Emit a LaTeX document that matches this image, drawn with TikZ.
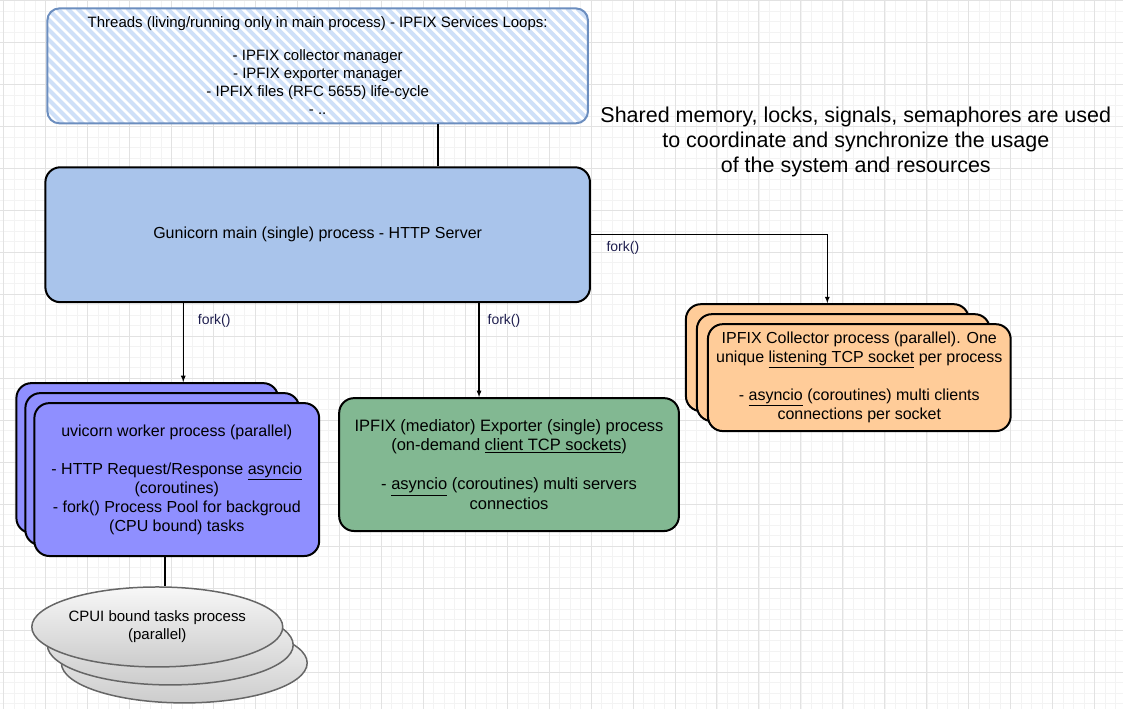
\documentclass[tikz,border=0pt]{standalone}
\usepackage{fontspec}
\setmainfont{Liberation Sans}
\usetikzlibrary{positioning,shapes.geometric}

\definecolor{gunifill}{HTML}{A9C4EB}
\definecolor{uvifill}{HTML}{8F8FFF}
\definecolor{expfill}{HTML}{82B892}
\definecolor{colfill}{HTML}{FFCC99}
\definecolor{hatchblue}{HTML}{CFE0F8}
\definecolor{threadedge}{HTML}{6C8EBF}
\definecolor{cpuedge}{HTML}{666666}
\definecolor{gridminor}{HTML}{F3F3F3}
\definecolor{gridmajor}{HTML}{E2E2E2}
\definecolor{forkink}{HTML}{1F1F4F}

\begin{document}
\begin{tikzpicture}[
	x=1pt, y=-1pt,
	procbox/.style={rectangle, rounded corners=15pt, draw=black, line width=2pt, align=center, inner sep=0pt, font=\fontsize{16}{19}\selectfont},
	threadbox/.style={rectangle, rounded corners=12pt, draw=threadedge, line width=2pt, fill=white, align=center, inner sep=0pt, font=\fontsize{15}{18}\selectfont,
		path picture={\foreach \k in {-14,...,56} \draw[hatchblue, line width=4pt] ([xshift=\k*10pt]path picture bounding box.north west) -- ++(130pt,-130pt);}},
	cpubox/.style={ellipse, draw=cpuedge, line width=1.5pt, top color=gray!6, bottom color=gray!40, minimum width=246pt, minimum height=80pt, inner sep=0pt, align=center, font=\fontsize{15}{18}\selectfont},
	forklbl/.style={text=forkink, inner sep=0pt, font=\fontsize{14}{16}\selectfont},
	arr/.style={-latex, line width=1.2pt},
	link/.style={line width=1.6pt}
	]

	% background grid
	\foreach \i in {0,...,106} \draw[gridminor, line width=0.5pt] ({3+10.5*\i},0) -- ({3+10.5*\i},709);
	\foreach \j in {0,...,67} \draw[gridminor, line width=0.5pt] (0,{10.5*\j}) -- (1123,{10.5*\j});
	\foreach \i in {0,...,26} \draw[gridmajor, line width=0.8pt] ({3+42*\i},0) -- ({3+42*\i},709);
	\foreach \j in {0,...,16} \draw[gridmajor, line width=0.8pt] (0,{42*\j}) -- (1123,{42*\j});
	\useasboundingbox (0,0) rectangle (1123,709);

	\node (gunicorn) [procbox, fill=gunifill, minimum width=545pt, minimum height=135pt] at (317.5,234.5) {Gunicorn main (single) process - HTTP Server};

	\node (threads) [threadbox, minimum width=541pt, minimum height=115pt, above=42pt of gunicorn] {Threads (living/running only in main process) - IPFIX Services Loops:\\[15pt]- IPFIX collector manager\\- IPFIX exporter manager\\- IPFIX files (RFC 5655) life-cycle\\- ..};

	\node (syncnote) [align=center, font=\fontsize{21.5}{25}\selectfont] at (856,142) {Shared memory, locks, signals, semaphores are used\\to coordinate and synchronize the usage\\of the system and resources};

	% uvicorn workers
	\node (uvback2) [procbox, fill=uvifill, minimum width=262pt, minimum height=150pt, anchor=north west] at (15,382) {};
		\node (uvback1) [procbox, fill=uvifill, minimum width=274pt, minimum height=152pt, below right=10pt and 9pt of uvback2.north west] {};
			\node (uvicorn) [procbox, fill=uvifill, minimum width=285pt, minimum height=153pt, below right=10pt and 9pt of uvback1.north west] {uvicorn worker process (parallel)\\[19pt]- HTTP Request/Response \underline{asyncio}\\(coroutines)\\- fork() Process Pool for backgroud\\(CPU bound) tasks};

	% exporter
	\node (exporter) [procbox, fill=expfill, minimum width=340pt, minimum height=133pt, anchor=north west, font=\fontsize{16.5}{19.5}\selectfont] at (338,397) {IPFIX (mediator) Exporter (single) process\\(on-demand \underline{client TCP sockets})\\[19.5pt]- \underline{asyncio} (coroutines) multi servers\\connectios};

	% collectors
	\node (colback2) [procbox, fill=colfill, minimum width=283pt, minimum height=107pt, anchor=north west] at (685,303) {};
		\node (colback1) [procbox, fill=colfill, minimum width=293pt, minimum height=107pt, below right=10pt and 11pt of colback2.north west] {};
			\node (collector) [procbox, fill=colfill, minimum width=303pt, minimum height=107pt, below right=10pt and 11pt of colback1.north west] {IPFIX Collector process (parallel). One\\unique \underline{listening TCP socket} per process\\[19pt]- \underline{asyncio} (coroutines) multi clients\\connections per socket};

	% cpu bound tasks
	\node (cpuback2) [cpubox] at (184,663) {};
		\node (cpuback1) [cpubox] at (170,645) {};
			\node (cpu) [cpubox] at (157,627) {CPUI bound tasks process\\(parallel)};

	\draw [link] ([xshift=120.5pt]gunicorn.north) -- ([xshift=120.5pt]gunicorn.north |- threads.south);
	\draw [link] ([xshift=8pt]cpu.north) -- ([xshift=8pt]cpu.north |- uvicorn.south);

	\draw [arr] ([xshift=36pt]uvback2.north |- gunicorn.south) -- node[forklbl, pos=0.23, right=14pt] {fork()} ([xshift=36pt]uvback2.north);
	\draw [arr] ([xshift=-30pt]exporter.north |- gunicorn.south) -- node[forklbl, pos=0.19, right=8pt] {fork()} ([xshift=-30pt]exporter.north);
	\draw [arr] (gunicorn.east) -| node[forklbl, pos=0, below right=6pt and 15pt] {fork()} (colback2.north);

\end{tikzpicture}
\end{document}
